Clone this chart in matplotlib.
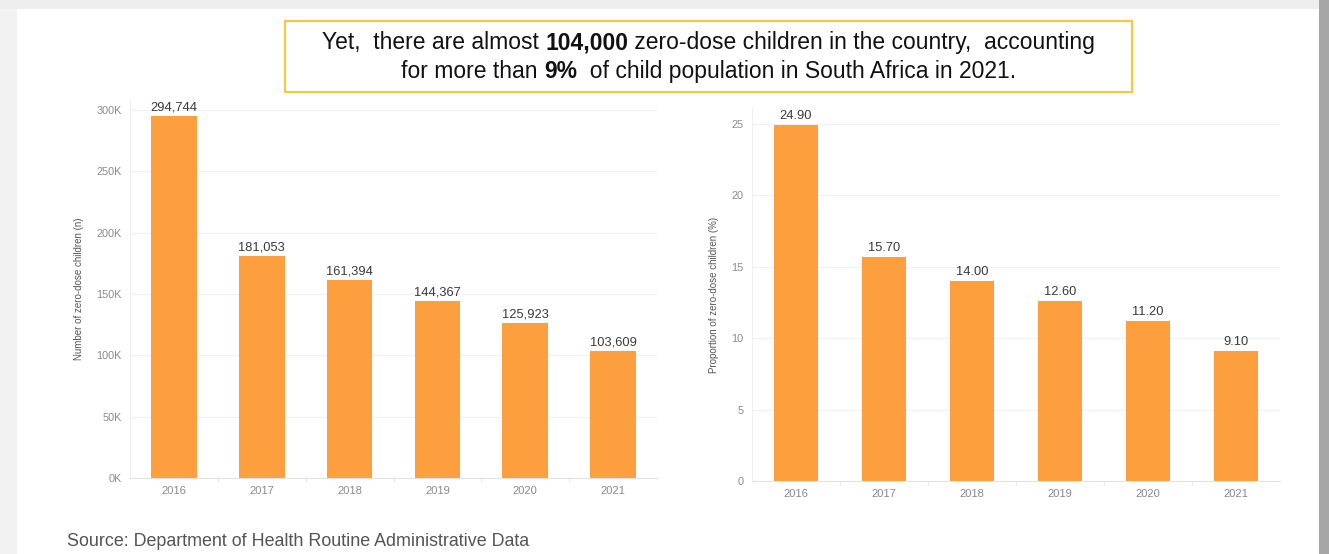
import matplotlib

matplotlib.use("Agg")
import matplotlib.pyplot as plt
from matplotlib.patches import Rectangle
from matplotlib.offsetbox import AnchoredOffsetbox, HPacker, VPacker, TextArea
from matplotlib.ticker import FuncFormatter, MultipleLocator

years = ["2016", "2017", "2018", "2019", "2020", "2021"]
zero_dose_counts = [294744, 181053, 161394, 144367, 125923, 103609]
zero_dose_pct = [24.90, 15.70, 14.00, 12.60, 11.20, 9.10]

ORANGE = "#FD9F3E"
GRID = "#f1f1f1"
TICK_GREY = "#8a8a8a"
W, H = 1329, 554

plt.rcParams["font.family"] = ["Liberation Sans", "DejaVu Sans"]


def px_rect(x0, y0, x1, y1):
    # pixel box (top-left origin) -> figure fraction [left, bottom, width, height]
    return [x0 / W, 1 - y1 / H, (x1 - x0) / W, (y1 - y0) / H]


fig = plt.figure(figsize=(W / 100, H / 100), dpi=100)
fig.patch.set_facecolor("white")

# page edges around the white panel
for box, color in [
    ((0, 0, 17, H), "#f2f2f2"),
    ((0, 0, W, 9), "#eeeeee"),
    ((1319, 0, W, H), "#a6a6a6"),
]:
    l, b, w, h = px_rect(*box)
    fig.patches.append(Rectangle((l, b), w, h, transform=fig.transFigure,
                                 facecolor=color, edgecolor="none", zorder=0))


def style_axis(ax, ylabel):
    ax.set_xlim(-0.5, len(years) - 0.5)
    ax.set_xticks(range(len(years)))
    ax.set_xticklabels(years)
    ax.set_xticks([i + 0.5 for i in range(len(years) - 1)], minor=True)
    ax.tick_params(axis="x", which="major", length=0, pad=6, labelsize=8, labelcolor=TICK_GREY)
    ax.tick_params(axis="x", which="minor", length=3, color="#e4e4e4")
    ax.tick_params(axis="y", length=0, pad=6, labelsize=7.8, labelcolor=TICK_GREY)
    ax.grid(axis="y", color=GRID, linewidth=0.9)
    ax.set_axisbelow(True)
    for side in ("top", "right"):
        ax.spines[side].set_visible(False)
    ax.spines["left"].set_color("#f0f0f0")
    ax.spines["bottom"].set_color("#e2e2e2")
    ax.set_ylabel(ylabel, fontsize=7, color="#555555", labelpad=9)


# absolute number of zero-dose children
ax1 = fig.add_axes(px_rect(130, 100, 657, 478))
bars1 = ax1.bar(range(len(years)), zero_dose_counts, width=0.52, color=ORANGE)
ax1.bar_label(bars1, labels=[f"{v:,}" for v in zero_dose_counts],
              padding=2, fontsize=9.3, color="#3a3a3a")
ax1.set_ylim(0, 308000)
ax1.yaxis.set_major_locator(MultipleLocator(50000))
ax1.yaxis.set_major_formatter(FuncFormatter(lambda v, _: f"{int(v / 1000)}K"))
style_axis(ax1, "Number of zero-dose children (n)")

# share of child population
ax2 = fig.add_axes(px_rect(752, 108, 1280, 481))
bars2 = ax2.bar(range(len(years)), zero_dose_pct, width=0.5, color=ORANGE)
ax2.bar_label(bars2, labels=[f"{v:.2f}" for v in zero_dose_pct],
              padding=2, fontsize=9.3, color="#3a3a3a")
ax2.set_ylim(0, 26.1)
ax2.yaxis.set_major_locator(MultipleLocator(5))
ax2.yaxis.set_major_formatter(FuncFormatter(lambda v, _: f"{int(v)}"))
style_axis(ax2, "Proportion of zero-dose children (%)")

# headline box
l, b, w, h = px_rect(285, 21, 1132, 92)
fig.patches.append(Rectangle((l, b), w, h, transform=fig.transFigure,
                             facecolor="white", edgecolor="#FFC53A", linewidth=1.5, zorder=1))


def line(parts):
    return HPacker(children=[TextArea(t, textprops=dict(fontsize=16.5, color="#111111", fontweight=fw))
                             for t, fw in parts], align="baseline", pad=0, sep=0)


headline = VPacker(children=[
    line([("Yet,  there are almost ", "normal"), ("104,000", "bold"),
          (" zero-dose children in the country,  accounting", "normal")]),
    line([("for more than ", "normal"), ("9%", "bold"),
          ("  of child population in South Africa in 2021.", "normal")]),
], align="center", pad=0, sep=4)
fig.add_artist(AnchoredOffsetbox(loc="center", child=headline, frameon=False,
                                 bbox_to_anchor=((285 + 1132) / 2 / W, 1 - 57 / H),
                                 bbox_transform=fig.transFigure, pad=0, borderpad=0))

fig.text(67 / W, 1 - 541 / H, "Source: Department of Health Routine Administrative Data",
         fontsize=12.9, color="#555555", va="center", ha="left")

fig.savefig("out.png", dpi=100)
